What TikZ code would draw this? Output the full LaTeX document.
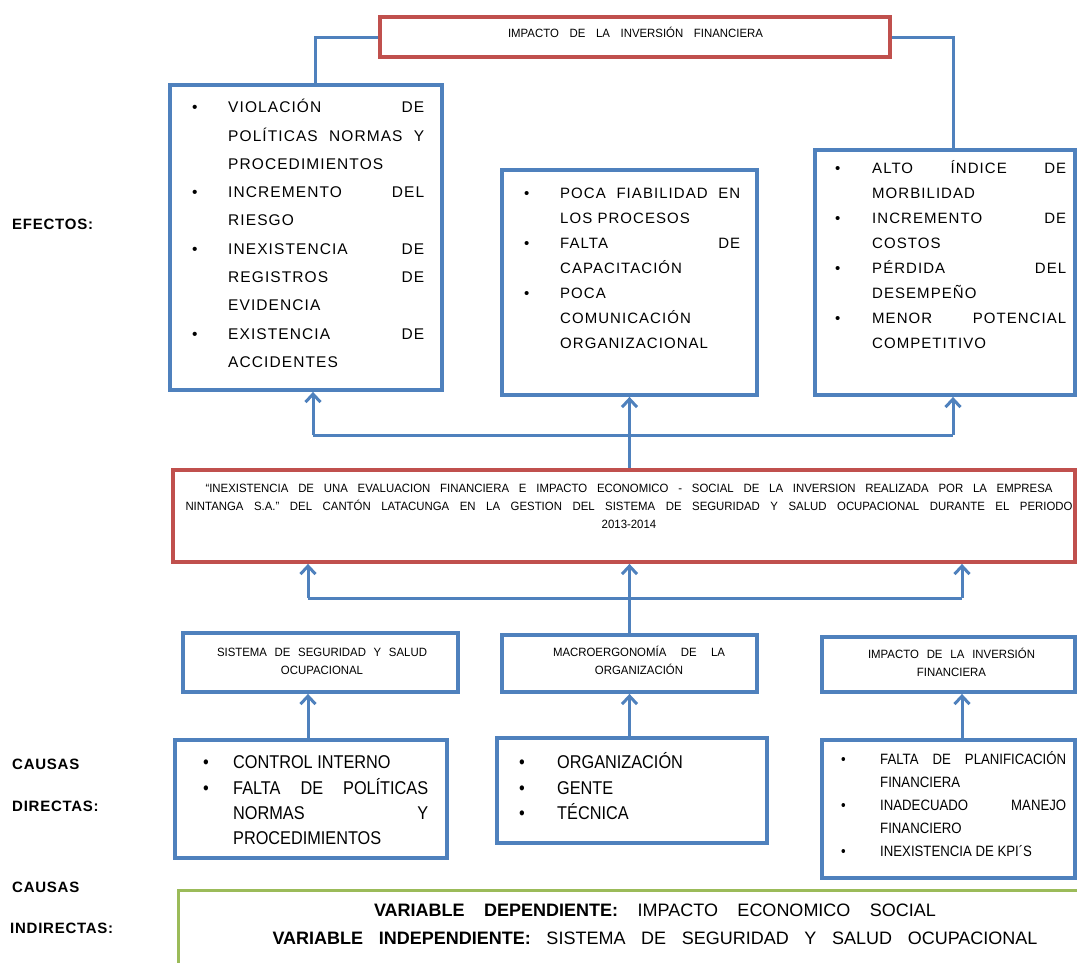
\documentclass[tikz,border=0pt]{standalone}
\usepackage{fontspec}
\setmainfont{Liberation Sans}
\newfontfamily\wideF[LetterSpace=7]{Liberation Sans}
\newfontfamily\narF[FakeStretch=0.88]{Liberation Sans}
\newfontfamily\smF[FakeStretch=0.95]{Liberation Sans}
\newfontfamily\labF[LetterSpace=5]{Liberation Sans}
\usetikzlibrary{arrows.meta,calc}
\definecolor{bl}{HTML}{4F81BD}
\definecolor{rd}{HTML}{C0504D}
\definecolor{gr}{HTML}{9BBB59}
\newlength\jw
\newcommand\J[1]{\makebox[\jw][s]{#1}}
\newcommand\bu{\textbullet}
\tikzset{
  bbox/.style={draw=bl, line width=3.8pt, inner sep=0pt},
  rbox/.style={draw=rd, line width=3.8pt, inner sep=0pt},
  gbox/.style={draw=gr, line width=3pt, inner sep=0pt},
  conn/.style={draw=bl, line width=3pt},
  arr/.style={conn, -{Straight Barb[length=8pt,width=15pt]}},
  txt/.style={inner sep=0pt, anchor=north west},
  ctxt/.style={inner sep=0pt, anchor=north},
  lab/.style={inner sep=0pt, anchor=base west, font=\labF\bfseries\fontsize{15}{18}\selectfont},
  small/.style={font=\smF\fontsize{12}{18}\selectfont}
}
\begin{document}
\begin{tikzpicture}[x=1pt,y=-1pt]
\useasboundingbox (0,0) rectangle (1077,962);

% ---------- boxes ----------
\node[rbox, minimum width=510pt, minimum height=40pt] (title) at (635,37) {};
\node[bbox, minimum width=272pt, minimum height=305pt] (leff) at (306,237.5) {};
\node[bbox, minimum width=255pt, minimum height=225pt] (meff) at (629.5,282.5) {};
\node[bbox, minimum width=260pt, minimum height=245pt] (reff) at (945,272.5) {};
\node[rbox, minimum width=902pt, minimum height=92pt] (main) at (624,516) {};
\node[bbox, minimum width=275pt, minimum height=59pt] (m1) at (320.5,662.5) {};
\node[bbox, minimum width=255pt, minimum height=57pt] (m2) at (629.5,663.5) {};
\node[bbox, minimum width=253pt, minimum height=55pt] (m3) at (948.5,664.5) {};
\node[bbox, minimum width=272pt, minimum height=118pt] (c1) at (311,799) {};
\node[bbox, minimum width=270pt, minimum height=105pt] (c2) at (632,790.5) {};
\node[bbox, minimum width=253pt, minimum height=138pt] (c3) at (948.5,809) {};
\node[gbox, minimum width=912pt, minimum height=85pt] (green) at (634,932.5) {};

% ---------- texts ----------
\node[inner sep=0pt, anchor=base, small] (titleT) at (635.5,37)
  {\makebox[255pt][s]{IMPACTO  DE LA INVERSIÓN  FINANCIERA}};

\node[txt, font=\wideF\fontsize{15.5}{28.3}\selectfont] (leffT) at (192,92.7) {\setlength\jw{196pt}%
\begin{tabular}{@{}p{36pt}@{}l@{}}
\bu & \J{VIOLACIÓN DE}\\
 & \J{POLÍTICAS NORMAS Y}\\
 & PROCEDIMIENTOS\\
\bu & \J{INCREMENTO DEL}\\
 & RIESGO\\
\bu & \J{INEXISTENCIA DE}\\
 & \J{REGISTROS DE}\\
 & EVIDENCIA\\
\bu & \J{EXISTENCIA DE}\\
 & ACCIDENTES
\end{tabular}};

\node[txt, font=\wideF\fontsize{15}{25}\selectfont] (meffT) at (524,180.8) {\setlength\jw{180pt}%
\begin{tabular}{@{}p{36pt}@{}l@{}}
\bu & \J{POCA FIABILIDAD EN}\\
 & LOS PROCESOS\\
\bu & \J{FALTA DE}\\
 & CAPACITACIÓN\\
\bu & POCA\\
 & COMUNICACIÓN\\
 & ORGANIZACIONAL
\end{tabular}};

\node[txt, font=\wideF\fontsize{15}{25}\selectfont] (reffT) at (835,155.8) {\setlength\jw{194pt}%
\begin{tabular}{@{}p{37pt}@{}l@{}}
\bu & \J{ALTO ÍNDICE DE}\\
 & MORBILIDAD\\
\bu & \J{INCREMENTO DE}\\
 & COSTOS\\
\bu & \J{PÉRDIDA DEL}\\
 & DESEMPEÑO\\
\bu & \J{MENOR POTENCIAL}\\
 & COMPETITIVO
\end{tabular}};

\node[ctxt, small] (mainT) at (629,479.4) {%
\begin{tabular}{@{}c@{}}
\makebox[847pt][s]{“INEXISTENCIA  DE UNA EVALUACION  FINANCIERA  E IMPACTO  ECONOMICO - SOCIAL DE LA INVERSION  REALIZADA  POR LA EMPRESA}\\
\makebox[887pt][s]{NINTANGA S.A.” DEL CANTÓN LATACUNGA EN LA GESTION DEL SISTEMA DE SEGURIDAD Y SALUD OCUPACIONAL DURANTE EL PERIODO}\\
2013-2014
\end{tabular}};

\node[ctxt, small] (m1T) at (322,643.4) {%
\begin{tabular}{@{}c@{}}
\makebox[210pt][s]{SISTEMA DE SEGURIDAD Y SALUD}\\ OCUPACIONAL
\end{tabular}};
\node[ctxt, small] (m2T) at (639,643.4) {%
\begin{tabular}{@{}c@{}}
\makebox[172pt][s]{MACROERGONOMÍA DE LA}\\ ORGANIZACIÓN
\end{tabular}};
\node[ctxt, small] (m3T) at (951.5,645.4) {%
\begin{tabular}{@{}c@{}}
\makebox[167pt][s]{IMPACTO DE LA INVERSIÓN}\\ FINANCIERA
\end{tabular}};

\node[txt, font=\narF\fontsize{18.5}{25.3}\selectfont] (c1T) at (203,750.8) {\setlength\jw{195pt}%
\begin{tabular}{@{}p{30pt}@{}l@{}}
\bu & CONTROL INTERNO\\
\bu & \J{FALTA DE POLÍTICAS}\\
 & \J{NORMAS Y}\\
 & PROCEDIMIENTOS
\end{tabular}};

\node[txt, font=\narF\fontsize{18.5}{25.3}\selectfont] (c2T) at (519,750.8) {%
\begin{tabular}{@{}p{38pt}@{}l@{}}
\bu & ORGANIZACIÓN\\
\bu & GENTE\\
\bu & TÉCNICA
\end{tabular}};

\node[txt, font=\narF\fontsize{15}{23}\selectfont] (c3T) at (841,748) {\setlength\jw{186pt}%
\begin{tabular}{@{}p{39pt}@{}l@{}}
\bu & \J{FALTA DE PLANIFICACIÓN}\\
 & FINANCIERA\\
\bu & \J{INADECUADO MANEJO}\\
 & FINANCIERO\\
\bu & INEXISTENCIA DE KPI´S
\end{tabular}};

\node[ctxt, font=\fontsize{18}{28}\selectfont] (greenT) at (655,896.7) {%
\begin{tabular}{@{}c@{}}
\makebox[562pt][s]{\textbf{VARIABLE DEPENDIENTE:} IMPACTO ECONOMICO SOCIAL}\\
\makebox[765pt][s]{\textbf{VARIABLE INDEPENDIENTE:} SISTEMA DE SEGURIDAD Y SALUD OCUPACIONAL}
\end{tabular}};

% ---------- side labels ----------
\node[lab] (efectos) at (12,229.4) {EFECTOS:};
\node[lab] (causas1) at (12,769.4) {CAUSAS};
\node[lab] (directas) at (12,811.4) {DIRECTAS:};
\node[lab] (causas2) at (12,892.4) {CAUSAS};
\node[lab] (indirectas) at (10,933.4) {INDIRECTAS:};

% ---------- connectors ----------
\draw[conn] (title.west) -| ($(leff.north)+(9,0)$);
\draw[conn] (title.east) -| ($(reff.north)+(8,0)$);

\coordinate (eL) at (313,435);
\coordinate (eR) at (953,435);
\draw[conn] (eL) -- (eR);
\draw[arr] (eL) -- (eL |- leff.south);
\draw[arr] (eR) -- (eR |- reff.south);
\draw[arr] (meff.south |- main.north) -- (meff.south);

\coordinate (cL) at (308,598);
\coordinate (cR) at (962,598);
\draw[conn] (cL) -- (cR);
\draw[arr] (cL) -- (cL |- main.south);
\draw[arr] (cR) -- (cR |- main.south);
\draw[arr] (m2.north) -- (m2.north |- main.south);

\draw[arr] (cL |- c1.north) -- (cL |- m1.south);
\draw[arr] (m2.south |- c2.north) -- (m2.south);
\draw[arr] (cR |- c3.north) -- (cR |- m3.south);
\end{tikzpicture}
\end{document}
